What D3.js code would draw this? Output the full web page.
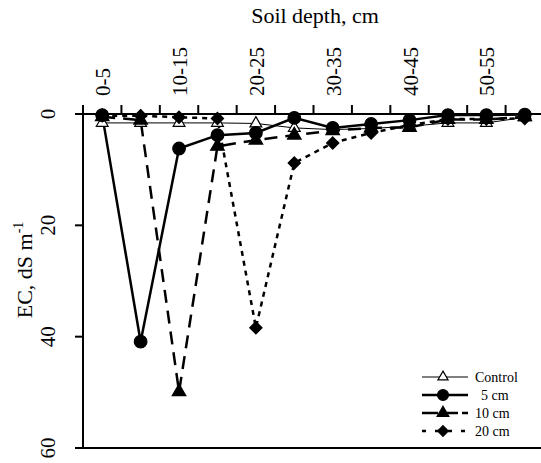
<!DOCTYPE html>
<html><head><meta charset="utf-8">
<script src="https://cdn.jsdelivr.net/npm/d3@7"></script>
<style>body{margin:0;background:#fff}svg{display:block}</style>
</head><body>
<script>
const depths = ["0-5","5-10","10-15","15-20","20-25","25-30","30-35","35-40","40-45","45-50","50-55","55-60"];
const tickLabels = ["0-5","10-15","20-25","30-35","40-45","50-55"];
const yTicks = [0,20,40,60];
const control = [1.6,1.6,1.6,1.6,1.7,2.5,2.8,2.6,2.2,1.6,1.6,0.6];
const cm5 = [0.2,40.9,6.2,3.8,3.4,0.7,2.5,1.8,1.1,0.2,0.2,0.1];
const cm10 = [0.5,1.1,49.9,5.8,4.7,3.8,3.0,2.5,2.4,1.0,1.0,0.5];
const cm20 = [0.3,0.3,0.6,0.8,38.4,8.8,5.2,3.4,2.0,0.9,0.9,0.8];

const W=541,H=463;
const svg=d3.select("body").append("svg").attr("width",W).attr("height",H)
  .attr("font-family","'Liberation Serif','DejaVu Serif','Times New Roman',serif");
const x=d3.scaleBand().domain(depths).range([83,544]);
const y=d3.scaleLinear().domain([0,60]).range([114,448]);

svg.append("line").attr("x1",83).attr("x2",83).attr("y1",114).attr("y2",448).attr("stroke","#000").attr("stroke-width",2);
svg.append("line").attr("x1",83).attr("x2",W).attr("y1",448).attr("y2",448).attr("stroke","#000").attr("stroke-width",2);
svg.append("line").attr("x1",83).attr("x2",W).attr("y1",114).attr("y2",114).attr("stroke","#000").attr("stroke-width",2);

const bounds=depths.map(d=>x(d));
svg.selectAll(".tt").data(bounds).join("line").attr("x1",d=>d).attr("x2",d=>d).attr("y1",114).attr("y2",105).attr("stroke","#000").attr("stroke-width",2);
svg.selectAll(".tl").data(tickLabels).join("text")
  .attr("transform",d=>`translate(${x(d)+x.bandwidth()/2+8},96) rotate(-90)`)
  .attr("font-size",21).attr("text-anchor","start").text(d=>d);
svg.append("text").attr("x",315).attr("y",23).attr("font-size",22).attr("text-anchor","middle").text("Soil depth, cm");

svg.selectAll(".yt").data(yTicks).join("line").attr("x1",75).attr("x2",83).attr("y1",d=>y(d)).attr("y2",d=>y(d)).attr("stroke","#000").attr("stroke-width",2);
svg.selectAll(".yl").data(yTicks).join("text")
  .attr("transform",d=>`translate(${55},${y(d)}) rotate(-90)`)
  .attr("font-size",21).attr("text-anchor","middle").text(d=>d);
const yl=svg.append("text").attr("transform","translate(32,270) rotate(-90)").attr("font-size",22).attr("text-anchor","middle");
yl.append("tspan").text("EC, dS m");
yl.append("tspan").attr("dy",-9).attr("font-size",14).text("-1");

const diamond={draw(ctx,size){const r=Math.sqrt(size/2);ctx.moveTo(0,-r);ctx.lineTo(r,0);ctx.lineTo(0,r);ctx.lineTo(-r,0);ctx.closePath();}};
const series=[
 {name:"Control",vals:control,sw:1,dash:null,sym:d3.symbolTriangle,fill:"#fff",size:60,lx:475},
 {name:"5 cm",vals:cm5,sw:2.5,dash:null,sym:d3.symbolCircle,fill:"#000",size:125,lx:481},
 {name:"10 cm",vals:cm10,sw:2.5,dash:"13,8",sym:d3.symbolTriangle,fill:"#000",size:80,lx:475},
 {name:"20 cm",vals:cm20,sw:2.5,dash:"5,5",sym:diamond,fill:"#000",size:75,lx:475}
];
const line=d3.line().x((d,i)=>x(depths[i])+x.bandwidth()/2).y(d=>y(d));
series.forEach(s=>{
  svg.append("path").attr("d",line(s.vals)).attr("fill","none").attr("stroke","#000").attr("stroke-width",s.sw).attr("stroke-dasharray",s.dash);
});
series.forEach(s=>{
  svg.append("g").selectAll("path").data(s.vals).join("path")
   .attr("d",d3.symbol().type(s.sym).size(s.size))
   .attr("transform",(d,i)=>`translate(${x(depths[i])+x.bandwidth()/2},${y(d)})`)
   .attr("fill",s.fill).attr("stroke","#000").attr("stroke-width",1.2);
});

const lg=svg.append("g");
series.forEach((s,i)=>{
  const ly=377+i*18;
  lg.append("line").attr("x1",422).attr("x2",468).attr("y1",ly).attr("y2",ly).attr("stroke","#000").attr("stroke-width",s.sw).attr("stroke-dasharray",s.dash? (i==3?"4,9":"16,4"):null);
  lg.append("path").attr("d",d3.symbol().type(s.sym).size(s.size*0.75)).attr("transform",`translate(443,${ly})`).attr("fill",s.fill).attr("stroke","#000").attr("stroke-width",1.2);
  lg.append("text").attr("x",s.lx).attr("y",ly+4.5).attr("font-size",14).text(s.name);
});
</script>
</body></html>
